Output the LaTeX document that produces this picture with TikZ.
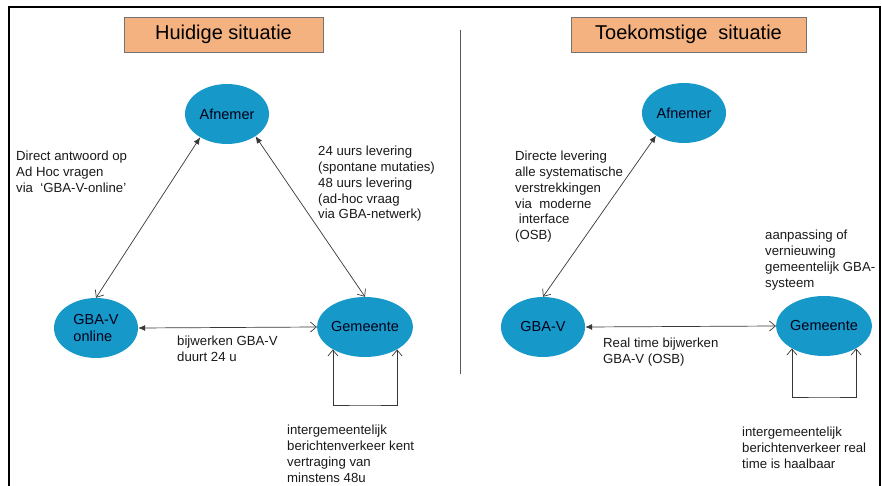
\documentclass[tikz,border=0pt]{standalone}
\usepackage{fontspec}
\setmainfont{Liberation Sans}
\usetikzlibrary{arrows.meta,shapes.geometric}
\definecolor{blob}{RGB}{22,152,200}
\definecolor{tag}{RGB}{244,178,128}
\definecolor{lijn}{RGB}{55,55,55}
\begin{document}
\begin{tikzpicture}[x=1pt,y=-1pt,
  state/.style={ellipse, fill=blob, minimum width=84pt, minimum height=60pt, inner sep=0pt, align=left, text=black!90!blue, font=\fontsize{14.5}{16.5}\selectfont},
  kop/.style={draw=black!55, fill=tag, minimum height=35pt, font=\fontsize{20}{22}\selectfont},
  note/.style={anchor=north west, inner sep=0pt, align=left, text=black!90, font=\fontsize{13.2}{15.8}\selectfont},
  pijl/.style={draw=lijn, line width=0.7pt, {Latex[length=7pt,width=6pt]}-{Straight Barb[length=6pt,width=10pt]}},
  lus/.style={draw=lijn, line width=0.7pt, {Straight Barb[length=6pt,width=10pt]}-{Straight Barb[length=6pt,width=10pt]}}]
\useasboundingbox (0,0) rectangle (882,486);
\draw[line width=1.5pt] (9,486) -- (9,7) -- (880,7) -- (880,486);
\draw[gray!70!black, line width=0.8pt] (460,30) -- (460,374);
\node (kopL) at (223.5,34.5) [kop, minimum width=199pt] {Huidige situatie};
\node (kopR) at (688.5,34.5) [kop, minimum width=235pt] {Toekomstige\ \ situatie};
\node (afnL) at (227,114) [state] {Afnemer};
\node (gbaL) at (96,328) [state] {GBA-V\\online};
\node (gemL) at (365,327) [state] {Gemeente};
\node (afnR) at (684,113) [state] {Afnemer};
\node (gbaR) at (543,327) [state] {GBA-V};
\node (gemR) at (824,326) [state] {Gemeente};
\draw[pijl] (afnL.221) -- (gbaL.north);
\draw[pijl] (afnL.322) -- (gemL.north);
\draw[pijl] (gbaL.east) -- (gemL.west);
\coordinate (lpL) at (365,405);
\draw[lus] (gemL.215) |- (lpL) -| (gemL.325);
\draw[pijl] (afnR.219) -- (gbaR.north);
\draw[pijl] (gbaR.east) -- (gemR.west);
\coordinate (lpR) at (824,397);
\draw[lus] (gemR.215) |- (lpR) -| (gemR.325);
\node (txtDirect) at (16,151) [note] {Direct antwoord op\\Ad Hoc vragen\\via\ \ ‘GBA-V-online’};
\node (txtLev) at (318,146) [note] {24 uurs levering\\(spontane mutaties)\\48 uurs levering\\(ad-hoc vraag\\via GBA-netwerk)};
\node (txtBijw) at (177,336) [note] {bijwerken GBA-V\\duurt 24 u};
\node (txtInterL) at (287,425) [note] {intergemeentelijk\\berichtenverkeer kent\\vertraging van\\minstens 48u};
\node (txtDirecte) at (515,151) [note] {Directe levering\\alle systematische\\verstrekkingen\\via\ \ moderne\\\ interface\\(OSB)};
\node (txtAanp) at (765,230) [note] {aanpassing of\\vernieuwing\\gemeentelijk GBA-\\systeem};
\node (txtReal) at (603,338) [note] {Real time bijwerken\\GBA-V (OSB)};
\node (txtInterR) at (742,427) [note] {intergemeentelijk\\berichtenverkeer real\\time is haalbaar};
\end{tikzpicture}
\end{document}
